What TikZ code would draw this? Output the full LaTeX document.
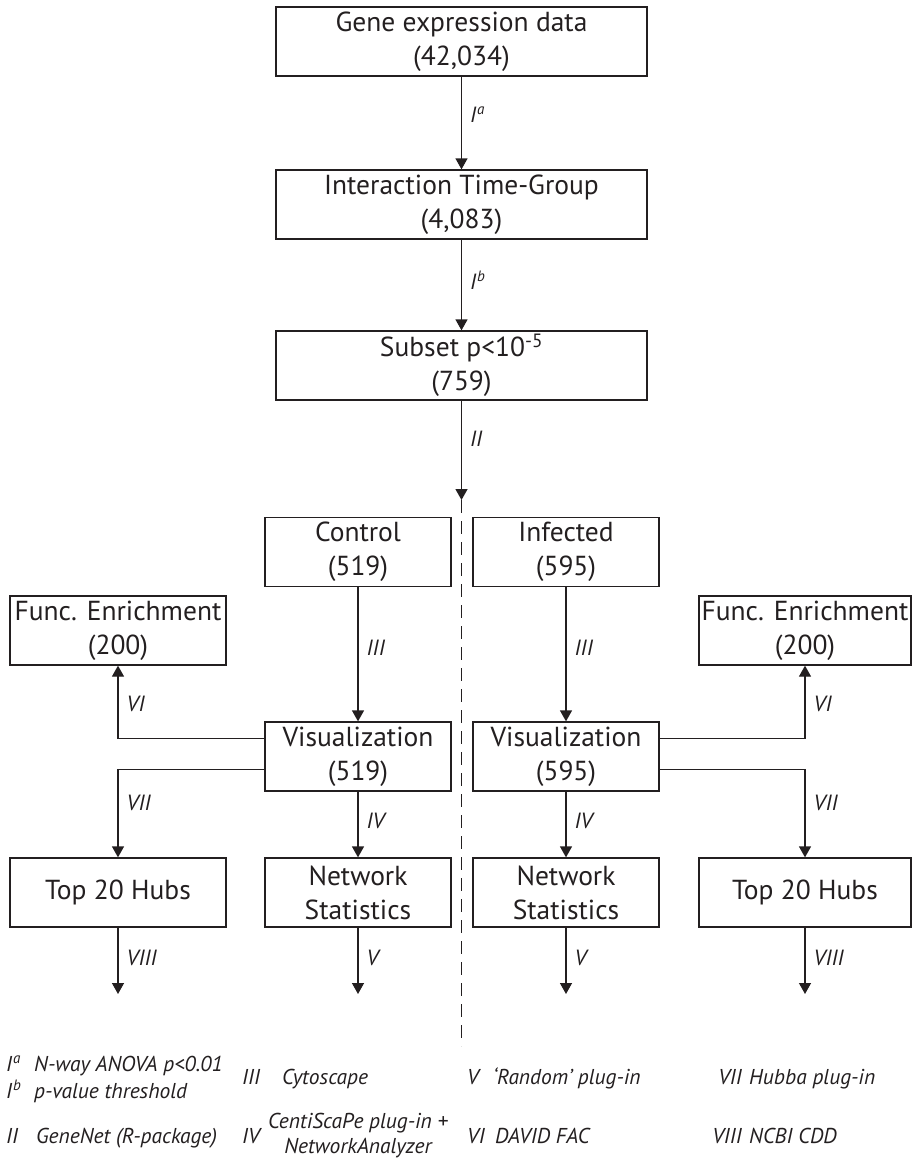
\documentclass[tikz,border=0pt]{standalone}
\usepackage{fontspec}
\setmainfont{PT Sans}
\usetikzlibrary{arrows.meta}
\definecolor{ink}{RGB}{35,31,32}
\newcommand\supl[1]{\kern1pt\raisebox{7.5pt}{\fontsize{15}{15}\selectfont #1}}
\begin{document}
\begin{tikzpicture}[x=1pt,y=-1pt,
  box/.style={draw=ink, line width=1.3pt, align=center, inner sep=0pt, text=ink,
    font=\fontsize{27.5}{34}\selectfont},
  wide/.style={minimum width=371pt, minimum height=69pt},
  mid/.style={minimum width=186pt, minimum height=69pt},
  side/.style={minimum width=216pt, minimum height=69pt},
  rside/.style={minimum width=212pt, minimum height=69pt},
  arr/.style={draw=ink, line width=1.3pt, -{Triangle[width=12pt,length=11pt]}},
  lab/.style={font=\fontsize{22}{26}\selectfont\itshape, text=ink, anchor=west, inner sep=0pt, xshift=8pt},
  leg/.style={font=\fontsize{21.5}{25}\selectfont\itshape, text=ink, anchor=base west, inner sep=0pt},
]
\useasboundingbox (0,0) rectangle (912,1160);

% main column
\node[box, wide] (gene) at (461.5,41.5) {Gene expression data\\(42,034)};
\node[box, wide] (inter) at (461.5,204.5) {Interaction Time-Group\\(4,083)};
\node[box, wide] (subset) at (461.5,365.5) {Subset p<10\textsuperscript{-5}\\(759)};
\coordinate (split) at (461.5,500);
\coordinate (dashend) at (461.5,1046);

% groups
\node[box, mid] (control) at (358,552) {Control\\(519)};
\node[box, mid] (infected) at (566,552) {Infected\\(595)};
\node[box, side] (feL) at (118,630.5) {Func. Enrichment\\(200)};
\node[box, rside] (feR) at (805,630.5) {Func. Enrichment\\(200)};
\node[box, mid] (visL) at (358,756.5) {Visualization\\(519)};
\node[box, mid] (visR) at (566,756.5) {Visualization\\(595)};
\node[box, side] (hubL) at (118,892.5) {Top 20 Hubs};
\node[box, mid] (nsL) at (358,892.5) {Network\\Statistics};
\node[box, mid] (nsR) at (566,892.5) {Network\\Statistics};
\node[box, rside] (hubR) at (805,892.5) {Top 20 Hubs};
\coordinate (endVIIIL) at (118,994);
\coordinate (endVL) at (358,994);
\coordinate (endVR) at (566,994);
\coordinate (endVIIIR) at (805,994);

% connectors
\draw[arr] (gene) -- node[lab, pos=0.41] {I\supl{a}} (inter);
\draw[arr] (inter) -- node[lab, pos=0.45] {I\supl{b}} (subset);
\draw[arr] (subset) -- node[lab, pos=0.38] {II} (split);
\draw[ink, line width=1.3pt, dash pattern=on 13pt off 8pt] (split) -- (dashend);

\draw[arr] (control) -- node[lab, pos=0.45] {III} (visL);
\draw[arr] (infected) -- node[lab, pos=0.45] {III} (visR);

\draw[arr] ([yshift=18pt]visL.west) -| node[lab, pos=0.74] {VI} (feL.south);
\draw[arr] ([yshift=-13pt]visL.west) -| node[lab, pos=0.69] {VII} (hubL.north);
\draw[arr] ([yshift=18pt]visR.east) -| node[lab, pos=0.74] {VI} (feR.south);
\draw[arr] ([yshift=-13pt]visR.east) -| node[lab, pos=0.69] {VII} (hubR.north);

\draw[arr] (visL) -- node[lab, pos=0.45] {IV} (nsL);
\draw[arr] (visR) -- node[lab, pos=0.45] {IV} (nsR);
\draw[arr] (nsL) -- node[lab, pos=0.45] {V} (endVL);
\draw[arr] (nsR) -- node[lab, pos=0.45] {V} (endVR);
\draw[arr] (hubL) -- node[lab, pos=0.45] {VIII} (endVIIIL);
\draw[arr] (hubR) -- node[lab, pos=0.45] {VIII} (endVIIIR);

% legend
\node[leg] (la1) at (6,1071) {I\supl{a}};
\node[leg] (la2) at (34,1071) {N-way ANOVA p<0.01};
\node[leg] (lb1) at (6,1098) {I\supl{b}};
\node[leg] (lb2) at (34,1098) {p-value threshold};
\node[leg] (l2a) at (6,1143) {II};
\node[leg] (l2b) at (36,1143) {GeneNet (R-package)};
\node[leg] (l3a) at (242,1084) {III};
\node[leg] (l3b) at (282,1084) {Cytoscape};
\node[leg] (l4a) at (242,1143) {IV};
\node[leg, anchor=center, align=center] (l4b) at (358,1136) {CentiScaPe plug-in +\\NetworkAnalyzer};
\node[leg] (l5a) at (467,1084) {V};
\node[leg] (l5b) at (493,1084) {‘Random’ plug-in};
\node[leg] (l6a) at (467,1143) {VI};
\node[leg] (l6b) at (495,1143) {DAVID FAC};
\node[leg, anchor=base east] (l7a) at (742,1084) {VII};
\node[leg] (l7b) at (749,1084) {Hubba plug-in};
\node[leg, anchor=base east] (l8a) at (742,1143) {VIII};
\node[leg] (l8b) at (749,1143) {NCBI CDD};
\end{tikzpicture}
\end{document}
